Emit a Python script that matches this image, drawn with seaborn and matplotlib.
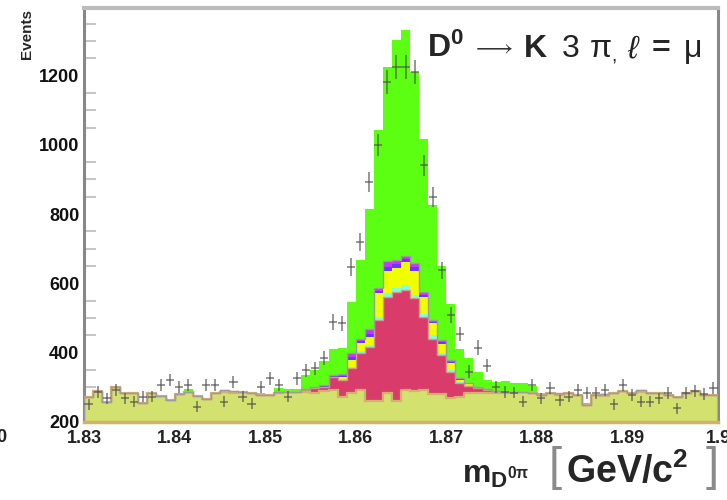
import numpy as np
import pandas as pd
import matplotlib
matplotlib.use("Agg")
import matplotlib.pyplot as plt
import seaborn as sns

# bins: 70 x 1 MeV from 1.83 to 1.90 GeV
edges = np.round(np.linspace(1.83, 1.90, 71), 4)
centers = (edges[:-1] + edges[1:]) / 2

# measured data (events per bin)
data = [251, 287, 268, 292, 268, 259, 273, 273, 307, 321, 302, 307, 244, 307, 307,
        259, 316, 273, 252, 302, 326, 307, 273, 326, 350, 355, 384, 489, 485, 648,
        720, 893, 999, 1181, 1225, 1225, 1210, 941, 850, 638, 509, 454, 345, 415, 362,
        302, 287, 285, 259, 307, 268, 297, 263, 273, 292, 283, 283, 292, 251, 307,
        278, 259, 259, 268, 283, 240, 283, 290, 281, 297]

# stacked MC components, bottom to top
comb = [273, 290, 258, 300, 285, 285, 256, 285, 276, 264, 282, 288, 276, 266, 284,
        286, 284, 287, 284, 278, 278, 284, 288, 287, 287, 283, 290, 292, 273, 283,
        292, 262, 262, 283, 262, 292, 290, 292, 280, 280, 270, 272, 283, 285, 283,
        283, 283, 287, 287, 283, 278, 283, 278, 283, 278, 250, 278, 276, 283, 290,
        283, 287, 283, 283, 278, 273, 283, 290, 278, 278]
other = [0, 0, 0, 0, 0, 0, 0, 0, 0, 0, 0, 0, 0, 0, 0,
         6, 5, 0, 0, 0, 0, 3, 0, 0, 5, 15, 12, 38, 48, 73,
         107, 155, 232, 278, 314, 289, 267, 212, 161, 113, 75, 40, 22, 12, 8,
         5, 3, 0, 0, 0, 0, 0, 3, 0, 0, 0, 0, 4, 0, 0,
         0, 4, 0, 0, 0, 0, 0, 0, 0, 0]
cyan = [0] * 28 + [3, 4, 6, 5, 10, 12, 11, 11, 11, 9, 10, 7, 5, 3, 2] + [0] * 27
yellow = [0] * 28 + [6, 19, 22, 24, 67, 62, 58, 71, 69, 47, 34, 25, 20, 5, 3] + [0] * 27
blue = [0] * 24 + [1, 1, 2, 2, 4, 8, 6, 9, 7, 12, 10, 7, 9, 7, 4, 5, 4, 3, 2, 2, 2, 1] + [0] * 6 + [2] + [0] * 17
magenta = [0] * 24 + [2, 1, 2, 3, 5, 11, 8, 12, 8, 17, 12, 9, 12, 9, 5, 6, 5, 3, 2, 3, 2, 1] + [0] * 6 + [2] + [0] * 17
signal = [0, 0, 0, 0, 0, 0, 0, 0, 0, 0, 3, 8, 0, 0, 0,
          0, 0, 0, 0, 5, 3, 10, 6, 8, 40, 50, 69, 75, 75, 149,
          226, 349, 456, 561, 635, 652, 552, 442, 332, 214, 161, 84, 72, 43, 26,
          25, 33, 25, 25, 22, 5, 0, 0, 0, 0, 5, 0, 0, 0, 0,
          0, 0, 0, 0, 0, 0, 0, 0, 0, 0]

comps = ["signal", "magenta", "blue", "yellow", "cyan", "other", "comb"]
values = {"comb": comb, "other": other, "cyan": cyan, "yellow": yellow,
          "blue": blue, "magenta": magenta, "signal": signal}
palette = {"comb": "#d3e16e", "other": "#d93b6b", "cyan": "#80ffe0",
           "yellow": "#f0ff00", "blue": "#6a35ff", "magenta": "#c436ff",
           "signal": "#5cff12"}

df = pd.concat([pd.DataFrame({"mass": centers, "count": values[c], "comp": c})
                for c in comps], ignore_index=True)

sns.set_theme(style="white")
plt.rcParams["font.family"] = ["Liberation Sans", "DejaVu Sans"]
plt.rcParams["mathtext.fontset"] = "custom"
plt.rcParams["mathtext.rm"] = "Liberation Sans"
plt.rcParams["mathtext.it"] = "Liberation Sans:italic"
plt.rcParams["mathtext.bf"] = "Liberation Sans:bold"

fig = plt.figure(figsize=(7.27, 5.0), dpi=100)
ax = fig.add_axes([84 / 727, 78 / 500, 634 / 727, 414 / 500])

sns.histplot(data=df, x="mass", weights="count", hue="comp", hue_order=comps,
             multiple="stack", bins=list(edges), element="step", fill=True,
             palette=palette, alpha=1, linewidth=0, legend=False, ax=ax, zorder=3)

# outlines of the stack
cum = np.cumsum([comb, other, cyan, yellow, blue, magenta], axis=0)
ax.stairs(cum[0], edges, color="#d2b26c", lw=1.6, zorder=4)
ax.stairs(cum[1], edges, color="#d49a86", lw=1.0, zorder=4)
ax.stairs(cum[5], edges, color="#a09aa0", lw=1.0, zorder=4)

ax.errorbar(centers, data, yerr=np.sqrt(data), xerr=0.00045, fmt="none",
            ecolor="#505050", elinewidth=1.3, alpha=0.65, capsize=0, zorder=6)

ax.set_xlim(1.83, 1.90)
ax.set_ylim(200, 1395)
ax.set_xlabel("")
ax.set_ylabel("")

ax.set_xticks(np.round(np.arange(1.83, 1.9001, 0.01), 2))
ax.set_xticklabels(["1.83", "1.84", "1.85", "1.86", "1.87", "1.88", "1.89", "1.9"],
                   fontsize=13, fontweight="bold", color="#222222")
ax.set_yticks([200, 400, 600, 800, 1000, 1200])
ax.set_yticklabels(["200", "400", "600", "800", "1000", "1200"],
                   fontsize=13, fontweight="bold", color="#111111")
ax.set_yticks(np.arange(250, 1395, 50), minor=True)
ax.tick_params(axis="x", length=0, pad=5.5)
ax.tick_params(axis="y", which="major", direction="in", length=15, width=1.4,
               color="#aaaaaa", pad=3.5)
ax.tick_params(axis="y", which="minor", direction="in", length=8.5, width=1.4,
               color="#c4c4c4", left=True)

for side, col, lw in [("top", "#bbbbbb", 3), ("left", "#888888", 2.2),
                      ("right", "#888888", 2.2), ("bottom", "#d2b26c", 2.5)]:
    ax.spines[side].set_color(col)
    ax.spines[side].set_linewidth(lw)
ax.spines["bottom"].set_zorder(5)

fig.text(27 / 727, 1 - 9 / 500, "Events", rotation=90, ha="center", va="top",
         fontsize=11, fontweight="bold")
fig.text(-4 / 727, 1 - 437 / 500, "0", ha="left", va="center", fontsize=13,
         fontweight="bold", color="#222222")

# decay channel label, pieces placed like the ROOT latex
tb = 1 - 57 / 500
def tpiece(x, s, **kw):
    fig.text(x / 727, tb, s, ha="left", va="baseline", fontsize=23, **kw)

tpiece(427, r"$\mathbf{D^{0}}$")
fig.text(472 / 727, 1 - 54 / 500, r"$\longrightarrow$", ha="left", va="baseline",
         fontsize=17, color="#333333")
tpiece(524, "K", fontweight="bold")
tpiece(562, "3", color="#222222")
tpiece(590, "π", color="#222222")
fig.text(611 / 727, 1 - 62 / 500, ",", ha="left", va="baseline", fontsize=14,
         color="#222222")
tpiece(627, "ℓ", style="italic", color="#222222")
tpiece(652, "=", fontweight="bold")
tpiece(684, "μ", color="#222222")

# x axis title, ROOT style with tall brackets
base = 1 - 483 / 500
fig.text(462 / 727, base, r"$\mathbf{m_{D^{0\pi}}}$", ha="left", va="baseline",
         fontsize=23)
fig.text(549 / 727, 1 - 480 / 500, "[", ha="left", va="baseline", fontsize=34,
         color="#8a8a8a")
fig.text(566 / 727, base, r"$\mathbf{GeV/c^{2}}$", ha="left", va="baseline",
         fontsize=27)
fig.text(719 / 727, 1 - 480 / 500, "]", ha="right", va="baseline", fontsize=34,
         color="#8a8a8a")

fig.savefig("out.png", dpi=100)
